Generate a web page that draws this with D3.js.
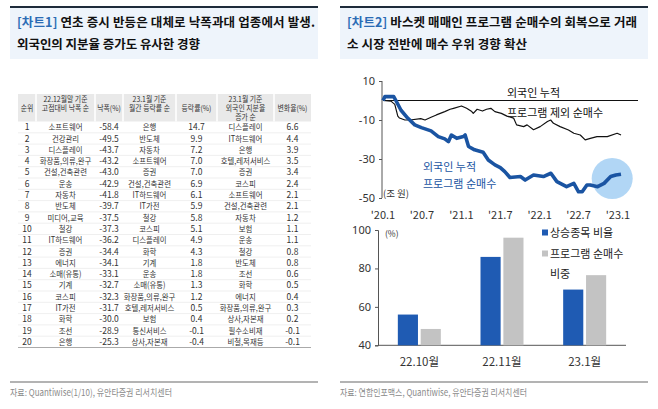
<!DOCTYPE html>
<html><head><meta charset="utf-8">
<script src="https://cdn.jsdelivr.net/npm/d3@7"></script>
<style>
html,body{margin:0;padding:0;background:#fff;}
svg{display:block;font-family:"Noto Sans CJK KR","Noto Sans",sans-serif;}
</style></head>
<body>
<svg id="c" width="658" height="409"></svg>
<script>
// ---------- DATA ----------
const ranks = d3.range(1, 21);
const dropCats = ["소프트웨어","건강관리","디스플레이","화장품,의류,완구","건설,건축관련","운송","자동차","반도체","미디어,교육","철강","IT하드웨어","증권","에너지","소매(유통)","기계","코스피","IT가전","화학","조선","은행"];
const dropVals = [-58.4,-49.5,-43.7,-43.2,-43.0,-42.9,-41.8,-39.7,-37.5,-37.3,-36.2,-34.4,-34.1,-33.1,-32.7,-32.3,-31.7,-30.0,-28.9,-25.3];
const monthCats = ["은행","반도체","자동차","소프트웨어","증권","건설,건축관련","IT하드웨어","IT가전","철강","코스피","디스플레이","화학","기계","운송","소매(유통)","화장품,의류,완구","호텔,레저서비스","보험","통신서비스","상사,자본재"];
const monthVals = [14.7,9.9,7.2,7.0,7.0,6.9,6.1,5.9,5.8,5.1,4.9,4.3,1.8,1.8,1.3,1.2,0.5,0.4,-0.1,-0.4];
const foreignCats = ["디스플레이","IT하드웨어","은행","호텔,레저서비스","증권","코스피","소프트웨어","건설,건축관련","자동차","보험","운송","철강","반도체","조선","화학","에너지","화장품,의류,완구","상사,자본재","필수소비재","비철,목재등"];
const foreignVals = [6.6,4.4,3.9,3.5,3.4,2.4,2.1,2.1,1.2,1.1,1.1,0.8,0.8,0.6,0.5,0.4,0.3,0.2,-0.1,-0.1];
const tableHeaders = [["순위"],["22.12월말 기준","고점대비 낙폭 순"],["낙폭(%)"],["23.1월 기준","월간 등락률 순"],["등락률(%)"],["23.1월 기준","외국인 지분율","증가 순"],["변화율(%)"]];

const exProgDates = ["2020-01-01","2020-02-07","2020-02-25","2020-03-10","2020-03-18","2020-04-12","2020-05-06","2020-06-25","2020-07-15","2020-08-12","2020-09-06","2020-10-15","2020-11-09","2020-11-25","2021-01-01","2021-01-25","2021-02-18","2021-02-25","2021-03-15","2021-04-09","2021-04-28","2021-05-18","2021-06-06","2021-07-06","2021-08-01","2021-09-01","2021-09-15","2021-10-18","2021-11-03","2021-12-03","2022-01-03","2022-02-06","2022-02-21","2022-03-06","2022-04-06","2022-05-15","2022-06-09","2022-07-09","2022-08-01","2022-08-25","2022-09-25","2022-11-12","2022-12-28","2023-01-15"];
const exProgVals = [0,-0.3,-2,-8,-9,-10,-10,-9.3,-10,-8.6,-7.4,-5.7,-4.5,-4,-2.8,-4,-5.7,-6.6,-4.5,-5.4,-4.5,-4,-5.7,-6.6,-8,-9,-12.5,-13.4,-12.5,-15,-13.4,-10.8,-10,-11.7,-13.4,-15.1,-16.8,-17.7,-20.2,-19.4,-18.5,-18.5,-16.8,-17.7];
const progDates = ["2020-01-01","2020-01-10","2020-02-10","2020-02-20","2020-03-01","2020-03-25","2020-04-25","2020-05-28","2020-06-28","2020-08-12","2020-09-15","2020-10-15","2020-11-01","2020-11-15","2020-12-10","2021-01-10","2021-01-18","2021-02-03","2021-03-03","2021-04-12","2021-05-06","2021-06-06","2021-07-01","2021-07-22","2021-08-15","2021-10-03","2021-10-25","2021-12-03","2022-01-18","2022-02-22","2022-03-22","2022-05-06","2022-06-09","2022-07-01","2022-07-18","2022-08-09","2022-08-25","2022-09-28","2022-10-28","2022-11-28","2022-12-22","2023-01-15"];
const progVals = [0,2,2,2,0,-5,-9,-12.5,-13.9,-15.6,-18.5,-19.7,-21.1,-17.7,-19.4,-18.5,-17.7,-23.6,-25.3,-26.5,-30.5,-33,-34.4,-36.5,-39.5,-39,-40.8,-38.2,-39,-37.3,-41.6,-44.2,-42.5,-46.8,-46.8,-43.3,-43.3,-44.2,-42.5,-39,-38.2,-37.8];
const lineYTicks = [10,-10,-30,-50];
const lineXTicks = ["2020-01-01","2020-07-01","2021-01-01","2021-07-01","2022-01-01","2022-07-01","2023-01-01"];
const lineXLabels = ["'20.1","'20.7","'21.1","'21.7","'22.1","'22.7","'23.1"];

const barCats = ["22.10월","22.11월","23.1월"];
const riseRatio = [56,86,69];
const progShare = [48.5,96,76.5];
const barSeries = ["상승종목 비율","프로그램 순매수 비중"];
const barYTicks = [40,60,80,100];

// ---------- DRAW ----------
const svg = d3.select("#c");
const parse = d3.timeParse("%Y-%m-%d");
const hy = s => s.replace(/\u2212/g, "-");
const fmt = v => hy(d3.format(".1f")(v));
const fmtInt = v => hy(d3.format("d")(v));

function panelHeader(x0, x1, tag, l1, l2, l1len, l2len){
  svg.append("rect").attr("x",x0).attr("y",8).attr("width",x1-x0).attr("height",51).attr("fill","#eef4fb");
  svg.append("line").attr("x1",x0).attr("x2",x1).attr("y1",7).attr("y2",7).attr("stroke","#1e2b3a").attr("stroke-width",2);
  const t = svg.append("text").attr("x",x0+7).attr("y",27).attr("font-size",12.5).attr("font-weight","bold").attr("fill","#111")
    .attr("textLength",l1len).attr("lengthAdjust","spacing");
  t.append("tspan").attr("fill","#2b6cb5").text(tag);
  t.append("tspan").text(" "+l1);
  svg.append("text").attr("x",x0+7).attr("y",49).attr("font-size",12.5).attr("font-weight","bold").attr("fill","#111")
    .attr("textLength",l2len).attr("lengthAdjust","spacing").text(l2);
}
panelHeader(10,318,"[차트1]","연초 증시 반등은 대체로 낙폭과대 업종에서 발생.","외국인의 지분율 증가도 유사한 경향",298,183);
panelHeader(340,648,"[차트2]","바스켓 매매인 프로그램 순매수의 회복으로 거래","소 시장 전반에 매수 우위 경향 확산",290,180);

function footer(x0,x1,txt,len){
  svg.append("line").attr("x1",x0).attr("x2",x1).attr("y1",382).attr("y2",382).attr("stroke","#9a9a9a").attr("stroke-width",1.5);
  svg.append("text").attr("x",x0).attr("y",396).attr("font-size",9.5).attr("fill","#8a8a8a")
    .attr("textLength",len).attr("lengthAdjust","spacingAndGlyphs").text(txt);
}
footer(10,318,"자료: Quantiwise(1/10), 유안타증권 리서치센터",162);
footer(340,648,"자료: 연합인포맥스, Quantiwise, 유안타증권 리서치센터",187);

// ---------- TABLE ----------
const colEdges = [18,36,95,123,176,217,274,311];
const headTop = 94, headBot = 121.5;
const rowY = d3.scaleBand().domain(ranks).range([headBot, 347.5]);
const tg = svg.append("g");
const SX = 0.87;
function squeeze(t, s){
  if (/[가-힣]/.test(s)) {
    const w = t.node().getComputedTextLength();
    t.attr("textLength", (w*SX).toFixed(1)).attr("lengthAdjust","spacingAndGlyphs");
  }
}
tg.append("rect").attr("x",colEdges[0]).attr("y",headTop).attr("width",colEdges[7]-colEdges[0]).attr("height",headBot-headTop).attr("fill","#e9e9e9");
for(let i=1;i<7;i++){
  tg.append("line").attr("x1",colEdges[i]).attr("x2",colEdges[i]).attr("y1",headTop).attr("y2",headBot).attr("stroke","#fff").attr("stroke-width",1.5);
}
tableHeaders.forEach((lines,i)=>{
  const cx = (colEdges[i]+colEdges[i+1])/2;
  const t = tg.append("text").attr("text-anchor","middle").attr("font-size",7.9).attr("fill","#333");
  lines.forEach((s,j)=>{
    const cyc = lines.length===1 ? 108.5 : 99.5 + j*9;
    const ts = t.append("tspan").attr("x",cx).attr("y",cyc+2.8).text(s);
    squeeze(ts, s);
  });
});
const cols = [ranks.map(String), dropCats, dropVals.map(fmt), monthCats, monthVals.map(fmt), foreignCats, foreignVals.map(fmt)];
ranks.forEach((r,k)=>{
  const y = rowY(r);
  tg.append("line").attr("x1",colEdges[0]).attr("x2",colEdges[7]).attr("y1",y+rowY.bandwidth()).attr("y2",y+rowY.bandwidth())
    .attr("stroke", k===19 ? "#aaa" : "#e4e4e4").attr("stroke-width", k===19?1:0.6);
  cols.forEach((col,i)=>{
    const cx = (colEdges[i]+colEdges[i+1])/2;
    const t = tg.append("text").attr("x",cx).attr("y",y+rowY.bandwidth()/2+3.1).attr("text-anchor","middle")
      .attr("font-size",8.5).attr("fill","#333").text(col[k]);
    squeeze(t, col[k]);
  });
});

// ---------- LINE CHART ----------
const lx = d3.scaleTime().domain([parse("2020-01-01"),parse("2023-01-01")]).range([383,618]);
const ly = d3.scaleLinear().domain([-50,10]).range([198,81]);
const lg = svg.append("g");
lg.append("g").attr("transform","translate(382,0)")
  .call(d3.axisLeft(ly).tickValues(lineYTicks).tickSize(3).tickFormat(fmtInt))
  .call(g=>{g.select(".domain").attr("stroke","#555").attr("d","M0,81V198");
    g.selectAll(".tick line").attr("stroke","#555");
    g.selectAll("text").attr("font-size",11).attr("fill","#333").attr("font-family","'Noto Sans','Noto Sans CJK KR',sans-serif").attr("x",-7);});
lg.append("g").selectAll("text").data(lineXTicks).join("text")
  .attr("x",d=>lx(parse(d))).attr("y",219).attr("text-anchor","middle").attr("font-size",11).attr("fill","#333")
  .text((d,i)=>lineXLabels[i]);
lg.append("line").attr("x1",lx(parse("2020-01-01"))).attr("x2",638).attr("y1",ly(0)).attr("y2",ly(0)).attr("stroke","#111").attr("stroke-width",1);
lg.append("circle").attr("cx",lx(parse("2022-12-05"))).attr("cy",ly(-40)).attr("r",20.5).attr("fill","#a9d1f4").attr("opacity",0.9);
const line = d3.line().x(d=>lx(d[0])).y(d=>ly(d[1]));
lg.append("path").datum(exProgDates.map((d,i)=>[parse(d),exProgVals[i]])).attr("d",line)
  .attr("fill","none").attr("stroke","#111").attr("stroke-width",1.2).attr("stroke-linejoin","round");
lg.append("path").datum(progDates.map((d,i)=>[parse(d),progVals[i]])).attr("d",line)
  .attr("fill","none").attr("stroke","#1a54a2").attr("stroke-width",3.6).attr("stroke-linejoin","round");
lg.append("text").attr("x",507).attr("y",97).attr("font-size",11).attr("fill","#111").text("외국인 누적");
lg.append("text").attr("x",507).attr("y",117).attr("font-size",11).attr("fill","#111").text("프로그램 제외 순매수");
lg.append("text").attr("x",423).attr("y",171).attr("font-size",11).attr("fill","#1a54a2").text("외국인 누적");
lg.append("text").attr("x",423).attr("y",188).attr("font-size",11).attr("fill","#1a54a2").text("프로그램 순매수");
lg.append("text").attr("x",383).attr("y",197).attr("font-size",9.5).attr("fill","#333").text("(조 원)");

// ---------- BAR CHART ----------
const bx = d3.scaleBand().domain(barCats).range([378,626]);
const by = d3.scaleLinear().domain([40,100]).range([345.3,230]);
const bg = svg.append("g");
bg.append("g").attr("transform","translate(378,0)")
  .call(d3.axisLeft(by).tickValues(barYTicks).tickSize(3))
  .call(g=>{g.select(".domain").attr("stroke","#555");
    g.selectAll(".tick line").attr("stroke","#555");
    g.selectAll("text").attr("font-size",11).attr("fill","#333").attr("font-family","'Noto Sans','Noto Sans CJK KR',sans-serif").attr("x",-7);});
bg.append("line").attr("x1",378).attr("x2",626).attr("y1",by(40)).attr("y2",by(40)).attr("stroke","#555");
const inner = d3.scaleBand().domain(barSeries).range([0,43]).paddingInner(0.12);
const colors = ["#1f5bb3","#c3c3c3"];
[riseRatio, progShare].forEach((vals,si)=>{
  bg.append("g").selectAll("rect").data(barCats).join("rect")
    .attr("x",d=>bx(d)+(bx.bandwidth()-43)/2+inner(barSeries[si]))
    .attr("width",inner.bandwidth())
    .attr("y",(d,i)=>by(vals[i]))
    .attr("height",(d,i)=>by(40)-by(vals[i]))
    .attr("fill",colors[si]);
});
bg.append("g").selectAll("text").data(barCats).join("text")
  .attr("x",d=>bx(d)+bx.bandwidth()/2).attr("y",366).attr("text-anchor","middle")
  .attr("font-size",11.5).attr("fill","#333").text(d=>d);
bg.append("text").attr("x",385).attr("y",237).attr("font-size",8.5).attr("fill","#333").text("(%)");
bg.append("rect").attr("x",542).attr("y",229.5).attr("width",6).attr("height",6).attr("fill",colors[0]);
bg.append("text").attr("x",550).attr("y",237).attr("font-size",11).attr("fill","#222").text(barSeries[0]);
bg.append("rect").attr("x",542).attr("y",250.5).attr("width",6).attr("height",6).attr("fill",colors[1]);
bg.append("text").attr("x",550).attr("y",258).attr("font-size",11).attr("fill","#222").text("프로그램 순매수");
bg.append("text").attr("x",550).attr("y",278).attr("font-size",11).attr("fill","#222").text("비중");
</script>
</body></html>
